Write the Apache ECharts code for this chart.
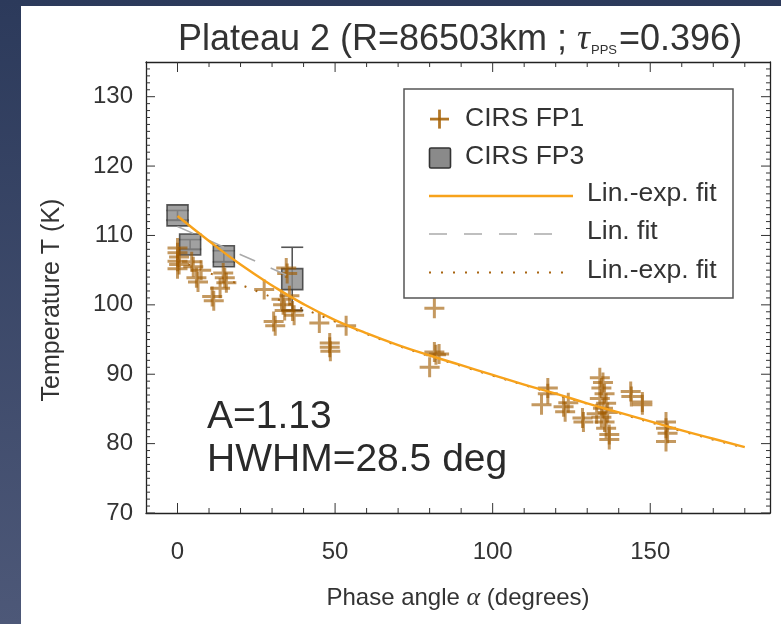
<!DOCTYPE html>
<html>
<head>
<meta charset="utf-8">
<title>Plateau 2</title>
<script src="https://cdn.jsdelivr.net/npm/echarts@6.0.0/dist/echarts.min.js"></script>
<style>
  html, body { margin: 0; padding: 0; }
  body {
    width: 781px; height: 624px; overflow: hidden; position: relative;
    background: linear-gradient(to bottom, #2c3a5b, #4d5878);
  }
  #paper { position: absolute; left: 21px; top: 6px; right: 0; bottom: 0; background: #fff; }
  #chart { position: absolute; left: 0; top: 0; width: 781px; height: 624px; }
</style>
</head>
<body>
<div id="paper"></div>
<div id="chart"></div>
<script>
// CIRS FP1 (crosses): phase angle (deg), temperature (K)
var fp1Phase = [0, 0, 0.5, 0, 0.5, 0, 4.5, 5, 6, 6.5, 7.5, 11, 11.5, 14.5, 15, 15.5, 13.5,
  27.5, 30.5, 31, 33, 33.5, 34, 34.5, 34.8, 36.5, 37, 35.5, 45, 48.3, 48.3, 48.5, 53.5,
  81.5, 81.5, 82, 83, 80, 117.5, 117.5, 115.5, 122.5, 123, 124, 128.5, 128.8,
  134, 135, 134.5, 135.5, 134, 136, 135, 136.5, 134.5, 135.5, 136, 137, 137, 133,
  143.8, 144, 147.5, 147.5, 155, 155, 155.5, 155];
var fp1Temp = [108.2, 107.5, 106.9, 106.3, 105.8, 105.2, 106.2, 105.5, 103.9, 103.3, 105.0, 101.2, 100.6, 104.6, 103.9, 103.2, 102.4,
  102.2, 97.6, 97.0, 100.8, 100.0, 99.2, 105.3, 104.5, 99.1, 98.5, 101.3, 97.4, 94.5, 93.9, 93.3, 97.0,
  99.5, 93.2, 92.8, 92.9, 91.0, 88.0, 87.2, 85.6, 85.3, 84.6, 85.9, 83.7, 83.1,
  89.5, 88.8, 88.0, 87.2, 86.5, 85.8, 85.1, 84.5, 83.8, 83.1, 82.2, 81.3, 80.6, 84.3,
  87.5, 86.8, 86.0, 85.6, 83.1, 82.2, 81.5, 80.3];

// CIRS FP3 (squares) with error range
var fp3Phase = [0, 4, 14.7, 36.4];
var fp3Temp = [112.9, 108.7, 107.0, 103.7];
var fp3Low = [112.2, 108.0, 106.2, 99.2];
var fp3High = [113.6, 109.4, 107.8, 108.3];

// Lin.-exp. fit (solid orange)
var fitPhase = [0, 10, 20, 30, 40, 50, 60, 70, 80, 90, 100, 110, 120, 130, 140, 150, 160, 170, 180];
var fitTemp = [112.8, 109.2, 105.8, 102.8, 100.1, 97.8, 95.9, 94.2, 92.7, 91.3, 89.9, 88.5, 87.2, 85.8, 84.5, 83.2, 81.9, 80.7, 79.5];

// Lin. fit (grey dashed)
var linPhase = [0, 37];
var linTemp = [111.3, 103.8];

// Lin.-exp. fit (brown dotted)
var fit2Phase = [0, 10, 20, 30, 40, 50, 60, 70, 80, 90, 100, 120, 140, 160, 180];
var fit2Temp = [106.5, 104.6, 102.9, 101.1, 99.4, 97.6, 95.8, 94.1, 92.6, 91.2, 89.8, 87.1, 84.4, 81.8, 79.4];

// axes and ticks
var xMin = -10, xMax = 188;
var yMin = 70, yMax = 135;
var xLabels = [0, 50, 100, 150];
var xMinorTicks = [10, 20, 30, 40, 60, 70, 80, 90, 110, 120, 130, 140, 160, 170, 180];
var yMajorTicks = [70, 80, 90, 100, 110, 120, 130];
var yMinorTicks = [71, 72, 73, 74, 75, 76, 77, 78, 79, 81, 82, 83, 84, 85, 86, 87, 88, 89,
  91, 92, 93, 94, 95, 96, 97, 98, 99, 101, 102, 103, 104, 105, 106, 107, 108, 109,
  111, 112, 113, 114, 115, 116, 117, 118, 119, 121, 122, 123, 124, 125, 126, 127, 128, 129,
  131, 132, 133, 134];

function zip(a, b) {
  return a.map(function (v, i) { return [v, b[i]]; });
}

var FONT = 'Liberation Sans';
var CROSS = 'path://M8.5 0h3v8.5h8.5v3h-8.5v8.5h-3v-8.5h-8.5v-3h8.5z';
var crossColor = 'rgba(160,92,0,0.78)';
var orange = '#f7a21b';
var brown = '#a86410';
var tickColor = '#333';

function plainAxis(pos, showLabel, isX) {
  return {
    type: 'value', position: pos,
    min: isX ? xMin : yMin, max: isX ? xMax : yMax,
    interval: isX ? undefined : 10,
    axisLine: { show: true, onZero: false, lineStyle: { color: '#222', width: 1.3 } },
    axisTick: { show: false },
    minorTick: { show: false },
    axisLabel: isX
      ? { show: showLabel, customValues: xLabels, margin: 27, color: '#333', fontSize: 24, fontFamily: FONT }
      : { show: showLabel, showMaxLabel: false, margin: 13, padding: [6, 0, 0, 0], color: '#333', fontSize: 24, fontFamily: FONT },
    splitLine: { show: false }
  };
}

// ticks drawn inward on all four sides, placed through the axis scales
function tickItem(params, api) {
  var cs = params.coordSys;
  var len = api.value(2);
  var st = { stroke: tickColor, lineWidth: 1 };
  var p = api.coord([api.value(0), api.value(1)]);
  if (api.value(3) === 0) {
    var b = cs.y + cs.height, t = cs.y;
    return { type: 'group', children: [
      { type: 'line', shape: { x1: p[0], y1: b, x2: p[0], y2: b - len }, style: st },
      { type: 'line', shape: { x1: p[0], y1: t, x2: p[0], y2: t + len }, style: st }
    ] };
  }
  var l = cs.x, r = cs.x + cs.width;
  return { type: 'group', children: [
    { type: 'line', shape: { x1: l, y1: p[1], x2: l + len, y2: p[1] }, style: st },
    { type: 'line', shape: { x1: r, y1: p[1], x2: r - len, y2: p[1] }, style: st }
  ] };
}

var tickData = []
  .concat(xLabels.map(function (v) { return [v, yMin, 10, 0]; }))
  .concat(xMinorTicks.map(function (v) { return [v, yMin, 5, 0]; }))
  .concat(yMajorTicks.map(function (v) { return [xMin, v, 9, 1]; }))
  .concat(yMinorTicks.map(function (v) { return [xMin, v, 4, 1]; }));

var chart = echarts.init(document.getElementById('chart'), null, { renderer: 'canvas' });

var legendText = { font: '26.5px "Liberation Sans"', fill: '#333', verticalAlign: 'middle' };

var option = {
  backgroundColor: 'transparent',
  animation: false,
  title: {
    text: '{n|Plateau 2 (R=86503km ; }{t|τ}{s|PPS}{n|=0.396)}',
    left: 455, top: 13, textAlign: 'center',
    textStyle: {
      fontWeight: 'normal',
      rich: {
        n: { fontFamily: FONT, fontSize: 36, fontWeight: 'normal', color: '#333', lineHeight: 44 },
        t: { fontFamily: 'Liberation Serif', fontStyle: 'italic', fontWeight: 'normal', fontSize: 36, color: '#333', lineHeight: 44 },
        s: { fontFamily: FONT, fontSize: 13, fontWeight: 'normal', color: '#333', verticalAlign: 'bottom', padding: [0, 2, 5, 1] }
      }
    }
  },
  grid: { left: 146, right: 11, top: 62, bottom: 111, containLabel: false, outerBoundsMode: 'none' },
  xAxis: [
    Object.assign(plainAxis('bottom', true, true), {
      name: 'Phase angle {g|α} (degrees)',
      nameLocation: 'middle', nameGap: 72,
      nameTextStyle: {
        color: '#333', fontSize: 24, fontFamily: FONT,
        rich: { g: { fontFamily: 'Liberation Serif', fontStyle: 'italic', fontSize: 26, color: '#333' } }
      }
    }),
    plainAxis('top', false, true)
  ],
  yAxis: [plainAxis('left', true, false), plainAxis('right', false, false)],
  series: [
    {
      name: 'ticks', type: 'custom', z: 6, silent: true, clip: false,
      data: tickData,
      renderItem: tickItem
    },
    {
      name: 'FP3 error', type: 'custom', z: 1,
      data: fp3Phase.map(function (x, i) { return [x, fp3Low[i], fp3High[i]]; }),
      renderItem: function (params, api) {
        var top = api.coord([api.value(0), api.value(2)]);
        var bot = api.coord([api.value(0), api.value(1)]);
        var w = 11;
        var st = { stroke: '#555', lineWidth: 1.6 };
        return {
          type: 'group',
          children: [
            { type: 'line', shape: { x1: top[0], y1: top[1], x2: bot[0], y2: bot[1] }, style: st },
            { type: 'line', shape: { x1: top[0] - w, y1: top[1], x2: top[0] + w, y2: top[1] }, style: st },
            { type: 'line', shape: { x1: bot[0] - w, y1: bot[1], x2: bot[0] + w, y2: bot[1] }, style: { stroke: '#333', lineWidth: 2 } }
          ]
        };
      }
    },
    {
      name: 'CIRS FP3', type: 'scatter', z: 2,
      symbol: 'rect', symbolSize: 21,
      itemStyle: { color: '#8a8a8a', borderColor: '#333', borderWidth: 1.6 },
      data: zip(fp3Phase, fp3Temp)
    },
    {
      name: 'CIRS FP1', type: 'scatter', z: 3,
      symbol: CROSS, symbolSize: 20,
      itemStyle: { color: crossColor },
      data: zip(fp1Phase, fp1Temp)
    },
    {
      name: 'Lin. fit', type: 'line', z: 4, showSymbol: false,
      lineStyle: { color: '#aaaaaa', width: 1.6, type: [17, 17] },
      data: zip(linPhase, linTemp)
    },
    {
      name: 'Lin.-exp. fit dotted', type: 'line', z: 4, showSymbol: false, smooth: true,
      lineStyle: { color: brown, width: 2, type: [2, 10] },
      data: zip(fit2Phase, fit2Temp)
    },
    {
      name: 'Lin.-exp. fit', type: 'line', z: 5, showSymbol: false, smooth: true,
      lineStyle: { color: orange, width: 2.4 },
      data: zip(fitPhase, fitTemp)
    }
  ],
  graphic: [
    // y axis title
    { type: 'text', z: 51, x: 52, y: 300, rotation: Math.PI / 2,
      style: { text: 'Temperature T (K)', font: '25px "Liberation Sans"', fill: '#333', align: 'center', verticalAlign: 'middle' } },
    // legend box
    { type: 'rect', z: 50, shape: { x: 404, y: 89, width: 329, height: 209 },
      style: { fill: '#fff', stroke: '#555', lineWidth: 1.5 } },
    { type: 'rect', z: 51, shape: { x: 430, y: 117.7, width: 19, height: 2.8 }, style: { fill: 'rgba(165,95,0,0.85)' } },
    { type: 'rect', z: 51, shape: { x: 438.1, y: 109.6, width: 2.8, height: 19 }, style: { fill: 'rgba(165,95,0,0.85)' } },
    { type: 'text', z: 51, x: 465, y: 119, style: Object.assign({ text: 'CIRS FP1' }, legendText) },
    { type: 'rect', z: 51, shape: { x: 429.5, y: 148, width: 21, height: 20, r: 1.5 },
      style: { fill: '#8a8a8a', stroke: '#333', lineWidth: 1.6 } },
    { type: 'text', z: 51, x: 465, y: 157, style: Object.assign({ text: 'CIRS FP3' }, legendText) },
    { type: 'line', z: 51, shape: { x1: 429, y1: 196, x2: 573, y2: 196 }, style: { stroke: orange, lineWidth: 2.4 } },
    { type: 'text', z: 51, x: 587, y: 194, style: Object.assign({ text: 'Lin.-exp. fit' }, legendText) },
    { type: 'line', z: 51, shape: { x1: 429, y1: 234, x2: 555, y2: 234 }, style: { stroke: '#aaaaaa', lineWidth: 1.6, lineDash: [18, 17] } },
    { type: 'text', z: 51, x: 587, y: 232, style: Object.assign({ text: 'Lin. fit' }, legendText) },
    { type: 'line', z: 51, shape: { x1: 429, y1: 272.5, x2: 573, y2: 272.5 }, style: { stroke: brown, lineWidth: 2, lineDash: [2, 10] } },
    { type: 'text', z: 51, x: 587, y: 271, style: Object.assign({ text: 'Lin.-exp. fit' }, legendText) },
    // fit parameters
    { type: 'text', z: 51, x: 207, y: 417, style: { text: 'A=1.13', font: '39px "Liberation Sans"', fill: '#2a2a2a', verticalAlign: 'middle' } },
    { type: 'text', z: 51, x: 207, y: 460, style: { text: 'HWHM=28.5 deg', font: '39px "Liberation Sans"', fill: '#2a2a2a', verticalAlign: 'middle' } }
  ]
};

chart.setOption(option);
</script>
</body>
</html>
